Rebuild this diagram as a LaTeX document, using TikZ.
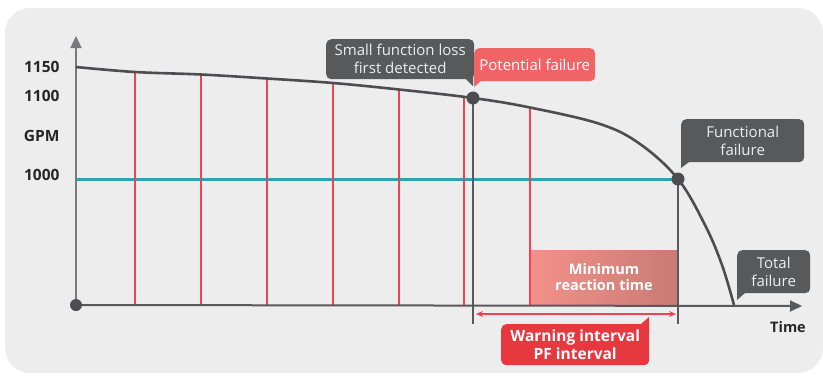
\documentclass[tikz,border=0pt]{standalone}
\usepackage{fontspec}
\setmainfont{Open Sans}
\usetikzlibrary{arrows.meta}
\definecolor{bgc}{HTML}{EDEDED}
\definecolor{dgrey}{HTML}{58595B}
\definecolor{axgrey}{HTML}{7A7A7C}
\definecolor{curvec}{HTML}{4D4D4F}
\definecolor{redl}{HTML}{F0424F}
\definecolor{tealc}{HTML}{2AA5AD}
\definecolor{pinkc}{HTML}{F06466}
\definecolor{warnc}{HTML}{E8383F}
\definecolor{lighttext}{HTML}{EEEEEE}
\definecolor{gradl}{HTML}{F2918A}
\definecolor{gradr}{HTML}{C97B74}
\tikzset{
  redline/.style={draw=redl, line width=2.6pt},
  greyline/.style={draw=dgrey, line width=2.6pt},
  ylab/.style={anchor=east, font=\bfseries\fontsize{15.5}{18}\selectfont, text=black!85},
  callbox/.style={fill=dgrey, rounded corners=5pt, text=lighttext, align=center, inner sep=0pt, font=\fontsize{15}{18}\selectfont},
  pinkbox/.style={fill=pinkc, rounded corners=5pt, text=white, align=center, inner sep=0pt, font=\fontsize{15}{18}\selectfont},
  dot/.style={circle, fill=curvec, inner sep=0pt, minimum size=13pt}
}
\begin{document}
\begin{tikzpicture}[x=1pt,y=-1pt]
\useasboundingbox (0,0) rectangle (823,376);
\fill[bgc, rounded corners=25pt] (5,8) rectangle (823,373);

% min reaction time box
\shade[left color=gradl, right color=gradr] (531,250) rectangle (677,305);
\node[text=white, align=center, font=\bfseries\fontsize{14.5}{16}\selectfont] (mrt) at (604,277) {Minimum\\reaction time};

% teal line
\draw[draw=tealc, line width=3pt] (76,179) -- (678,179);

% red lines
\foreach \x/\y in {135/72,201/74.5,267/78.5,333/83,399/89.5,464/97,530/107}
  \draw[redline] (\x,\y) -- (\x,305);

% grey verticals
\coordinate (pf) at (473,98);
\coordinate (ff) at (678,179);
\draw[greyline] (pf) -- (473,324);
\draw[greyline] (ff) -- (678,324);

% axes
\coordinate (o) at (76,305);
\draw[draw=axgrey, line width=2pt, -{Triangle[length=12pt,width=11pt]}] (o) -- (76,36);
\draw[draw=dgrey, line width=2pt, -{Triangle[length=12pt,width=11pt]}] (o) -- (802,306);
\fill[curvec] (o) circle (6pt);

% curve
\draw[draw=curvec, line width=2.6pt] plot[smooth, tension=0.6] coordinates {(76,67) (135,72) (201,74.5) (267,78.5) (333,83) (399,89.5) (473,98) (530,107.5) (600,124) (640,144) (678,179) (705,225) (722,265) (734,305)};

\node[dot] (pfd) at (pf) {};
\node[dot] (ffd) at (ff) {};

% double arrow
\draw[draw=redl, line width=2pt, {Stealth[length=7pt,width=6pt]}-{Stealth[length=7pt,width=6pt]}] (476,314) -- (676,314);

% warning box
\fill[warnc] (641,324) -- (649,317) -- (649,332) -- (641,332) -- cycle;
\node[fill=warnc, rounded corners=5pt, text=white, align=center, inner sep=0pt, minimum width=148pt, minimum height=41pt, anchor=north west, font=\bfseries\fontsize{15.5}{18}\selectfont] (warn) at (501,324) {Warning interval\\PF interval};

% callouts
\fill[dgrey] (465,72) -- (473,72) -- (473,86) -- (465,78) -- cycle;
\node[callbox, minimum width=148pt, minimum height=40pt, anchor=north west] (sfl) at (326,39) {Small function loss\\first detected};

\fill[pinkc] (474,72) -- (482,72) -- (482,80) -- (474,87) -- cycle;
\node[pinkbox, minimum width=121pt, minimum height=33pt, anchor=north west] (potf) at (474,48) {Potential failure};

\fill[dgrey] (681,155) -- (689,155) -- (689,162) -- (681,168) -- cycle;
\node[callbox, minimum width=123pt, minimum height=43pt, anchor=north west] (funcf) at (681,119) {Functional\\failure};

\fill[dgrey] (737,285) -- (745,285) -- (745,293) -- (737,300) -- cycle;
\node[callbox, minimum width=73pt, minimum height=43pt, anchor=north west] (totf) at (737,250) {Total\\failure};

% axis labels
\node[ylab] (l1150) at (63,67) {1150};
\node[ylab] (l1100) at (63,96) {1100};
\node[ylab] (lgpm) at (63,136) {GPM};
\node[ylab] (l1000) at (63,175) {1000};
\node[font=\bfseries\fontsize{14.5}{16}\selectfont, text=black!85] (time) at (788,327) {Time};
\end{tikzpicture}
\end{document}
